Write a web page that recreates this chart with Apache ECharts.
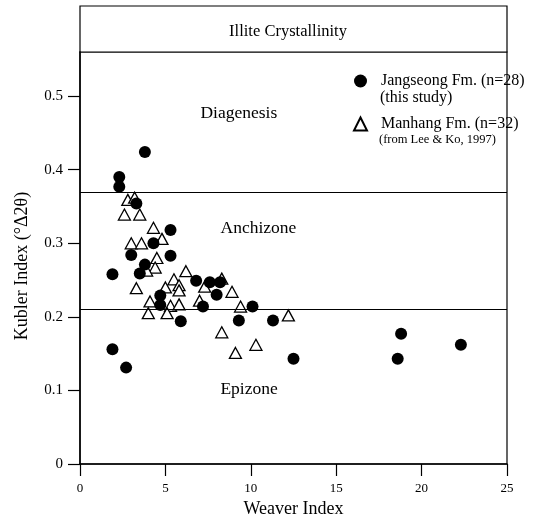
<!DOCTYPE html>
<html>
<head>
<meta charset="utf-8">
<script src="https://cdn.jsdelivr.net/npm/echarts@6/dist/echarts.min.js"></script>
<style>
  html, body { margin: 0; padding: 0; background: #fff; }
  #chart { width: 549px; height: 520px; }
</style>
</head>
<body>
<div id="chart"></div>
<script>
// Jangseong Fm. (this study) - [Weaver index, Kubler index]
const jangseong = [
  [2.3, 0.390], [2.3, 0.377], [3.3, 0.354], [5.3, 0.318], [4.3, 0.300],
  [3.0, 0.284], [5.3, 0.283], [3.8, 0.271], [3.5, 0.259], [1.9, 0.258],
  [6.8, 0.249], [7.6, 0.247], [8.2, 0.247], [4.7, 0.229], [8.0, 0.230],
  [4.7, 0.216], [7.2, 0.214], [10.1, 0.214], [5.9, 0.194], [9.3, 0.195],
  [11.3, 0.195], [1.9, 0.156], [2.7, 0.131], [12.5, 0.143], [3.8, 0.424],
  [18.8, 0.177], [18.6, 0.143], [22.3, 0.162]
];

// Manhang Fm. (Lee & Ko, 1997)
const manhang = [
  [2.8, 0.359], [3.2, 0.362], [2.6, 0.339], [3.5, 0.339], [4.3, 0.321],
  [4.8, 0.306], [3.0, 0.300], [3.6, 0.300], [4.5, 0.280], [4.4, 0.267],
  [3.9, 0.263], [6.2, 0.262], [5.5, 0.251], [5.8, 0.243], [5.0, 0.240],
  [5.8, 0.236], [3.3, 0.239], [7.3, 0.241], [8.3, 0.252], [8.9, 0.234],
  [4.1, 0.221], [7.0, 0.222], [5.3, 0.215], [5.8, 0.217], [9.4, 0.214],
  [4.0, 0.205], [5.1, 0.205], [12.2, 0.202], [8.3, 0.179], [9.1, 0.151],
  [10.3, 0.162]
];

// zone boundaries (Kubler index)
const boundaries = [0.37, 0.21];

// zone labels
const zoneNames = ['Diagenesis', 'Anchizone', 'Epizone'];
const zoneLabelPos = [[9.3, 0.477], [10.45, 0.320], [9.9, 0.102]];

const xTicks = [0, 5, 10, 15, 20, 25];

const serif = 'Liberation Serif';
const chart = echarts.init(document.getElementById('chart'));

chart.setOption({
  animation: false,
  backgroundColor: '#fff',
  textStyle: { fontFamily: serif, color: '#000' },
  grid: {
    left: 80, right: 42, top: 52, bottom: 56,
    show: true, borderColor: '#000', borderWidth: 1.2,
    containLabel: false,
    outerBoundsMode: 'none'
  },
  legend: {
    orient: 'vertical',
    left: 353, top: 73,
    padding: 0,
    itemWidth: 13, itemHeight: 13,
    itemGap: 27,
    textStyle: { fontFamily: serif, fontSize: 16, color: '#000', padding: [0, 0, 0, 9] },
    data: ['Jangseong Fm. (n=28)', 'Manhang Fm. (n=32)']
  },
  graphic: [
    {
      type: 'rect',
      shape: { x: 80, y: 6, width: 427, height: 46 },
      style: { fill: '#fff', stroke: '#000', lineWidth: 1.2 }
    },
    {
      type: 'text',
      x: 288, y: 32,
      style: {
        text: 'Illite Crystallinity', fontFamily: serif, fontSize: 16.5,
        fill: '#000', align: 'center', verticalAlign: 'middle'
      }
    },
    {
      type: 'text',
      x: 380, y: 98,
      style: {
        text: '(this study)', fontFamily: serif, fontSize: 16,
        fill: '#000', verticalAlign: 'middle'
      }
    },
    {
      type: 'text',
      x: 379, y: 140,
      style: {
        text: '(from Lee & Ko, 1997)', fontFamily: serif, fontSize: 12.5,
        fill: '#000', verticalAlign: 'middle'
      }
    }
  ],
  xAxis: {
    type: 'value',
    min: 0, max: 25, interval: 5,
    name: 'Weaver Index',
    nameLocation: 'middle',
    nameGap: 36,
    nameTextStyle: { fontFamily: serif, fontSize: 18, color: '#000' },
    axisLine: { show: true, onZero: false, lineStyle: { color: '#000', width: 1.5 } },
    axisTick: { show: true, length: 12, lineStyle: { color: '#000', width: 1.2 } },
    axisLabel: {
      fontFamily: serif, fontSize: 13, color: '#000', margin: 18,
      formatter: v => (xTicks.includes(v) ? String(v) : '')
    },
    splitLine: { show: false }
  },
  yAxis: {
    type: 'value',
    min: 0, max: 0.56, interval: 0.1,
    name: 'Kubler Index (°Δ2θ)',
    nameLocation: 'middle',
    nameGap: 49,
    nameTextStyle: { fontFamily: serif, fontSize: 18, color: '#000', padding: [0, 16, 0, 0] },
    axisLine: { show: true, lineStyle: { color: '#000', width: 1.5 } },
    axisTick: { show: true, length: 12, lineStyle: { color: '#000', width: 1.2 } },
    axisLabel: {
      fontFamily: serif, fontSize: 15, color: '#000', margin: 17,
      showMaxLabel: false,
      formatter: v => {
        const r = Math.round(v * 10) / 10;
        if (Math.abs(r - v) > 1e-6) return '';
        return r === 0 ? '0' : r.toFixed(1);
      }
    },
    splitLine: { show: false }
  },
  series: [
    {
      name: 'Jangseong Fm. (n=28)',
      type: 'scatter',
      symbol: 'circle',
      symbolSize: 12,
      itemStyle: { color: '#000', opacity: 1 },
      data: jangseong,
      z: 3,
      markLine: {
        silent: true,
        symbol: 'none',
        label: { show: false },
        lineStyle: { color: '#000', type: 'solid', width: 1.2, opacity: 1 },
        data: boundaries.map(b => ({ yAxis: b }))
      }
    },
    {
      name: 'Manhang Fm. (n=32)',
      type: 'scatter',
      symbol: 'triangle',
      symbolSize: [12, 11],
      itemStyle: { color: '#fff', borderColor: '#000', borderWidth: 1.3, opacity: 1 },
      data: manhang,
      z: 2
    },
    {
      name: 'zones',
      type: 'scatter',
      symbolSize: 0,
      silent: true,
      itemStyle: { opacity: 1 },
      data: zoneNames.map((n, i) => ({ name: n, value: zoneLabelPos[i] })),
      label: {
        show: true,
        position: 'inside',
        formatter: p => p.name,
        fontFamily: serif,
        fontSize: 17.5,
        color: '#000',
        opacity: 1
      }
    }
  ]
});
</script>
</body>
</html>
